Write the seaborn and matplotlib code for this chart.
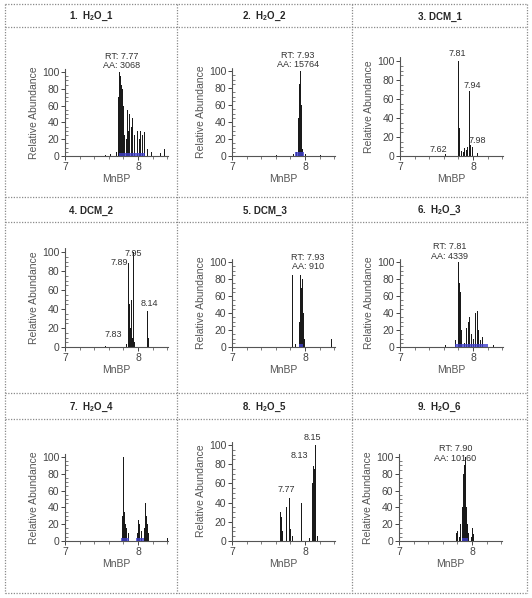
import pandas as pd
import matplotlib
matplotlib.use('Agg')
import matplotlib.pyplot as plt
import seaborn as sns

# ---- data (retention time, relative abundance) ----
titles = [r'$\mathbf{1.\ H_2O\_1}$', r'$\mathbf{2.\ H_2O\_2}$', '3. DCM_1',
          '4. DCM_2', '5. DCM_3', r'$\mathbf{6.\ H_2O\_3}$',
          r'$\mathbf{7.\ H_2O\_4}$', r'$\mathbf{8.\ H_2O\_5}$', r'$\mathbf{9.\ H_2O\_6}$']

p1_rt = [7.55, 7.62, 7.70, 7.72, 7.73, 7.74, 7.75, 7.76, 7.77, 7.78, 7.79, 7.80, 7.81, 7.83,
         7.85, 7.86, 7.88, 7.90, 7.92, 7.95, 7.98, 8.01, 8.03, 8.05, 8.08, 8.12, 8.18, 8.30, 8.36]
p1_ab = [1, 2, 5, 30, 70, 100, 95, 90, 85, 80, 60, 45, 25, 20,
         55, 30, 50, 35, 45, 25, 30, 20, 30, 25, 28, 8, 5, 3, 8]

p2_rt = [7.60, 7.84, 7.88, 7.90, 7.91, 7.92, 7.93, 7.94, 7.95, 7.96, 8.00, 8.20]
p2_ab = [1, 2, 5, 20, 45, 85, 100, 60, 25, 8, 2, 1]

p3_rt = [7.62, 7.79, 7.80, 7.81, 7.84, 7.86, 7.88, 7.90, 7.92, 7.94, 7.96, 7.98, 8.05]
p3_ab = [2, 100, 75, 30, 5, 4, 8, 6, 10, 68, 12, 10, 3]

p4_rt = [7.55, 7.83, 7.86, 7.87, 7.88, 7.89, 7.90, 7.91, 7.92, 7.93, 7.95, 8.12, 8.13, 8.14]
p4_ab = [1, 3, 88, 45, 30, 20, 50, 15, 10, 100, 5, 38, 25, 10]

p5_rt = [7.82, 7.86, 7.92, 7.93, 7.94, 7.95, 7.96, 7.97, 7.98, 8.35, 8.42]
p5_ab = [85, 3, 30, 85, 70, 60, 80, 40, 10, 10, 8]

p6_rt = [7.62, 7.76, 7.79, 7.80, 7.81, 7.82, 7.84, 7.87, 7.90, 7.93, 7.95, 7.97, 8.00,
         8.03, 8.05, 8.07, 8.10, 8.13, 8.27]
p6_ab = [2, 8, 45, 100, 75, 65, 20, 5, 22, 30, 35, 15, 10, 40, 42, 20, 8, 12, 2]

p7_rt = [7.78, 7.79, 7.80, 7.81, 7.82, 7.84, 7.86, 7.98, 8.00, 8.01, 8.02, 8.04,
         8.08, 8.09, 8.10, 8.11, 8.12, 8.14, 8.40]
p7_ab = [30, 100, 40, 35, 20, 15, 10, 10, 25, 20, 18, 12, 15, 45, 40, 30, 20, 10, 3]

p8_rt = [7.66, 7.67, 7.68, 7.74, 7.78, 7.79, 7.80, 7.82, 7.94, 8.06, 8.10, 8.11,
         8.12, 8.13, 8.14, 8.16]
p8_ab = [30, 25, 10, 35, 45, 12, 10, 5, 40, 3, 60, 78, 75, 70, 100, 5]

p9_rt = [7.78, 7.80, 7.82, 7.84, 7.86, 7.87, 7.88, 7.89, 7.90, 7.91, 7.92, 7.93,
         7.95, 7.98, 8.00, 8.02]
p9_ab = [10, 12, 5, 20, 40, 60, 80, 90, 100, 75, 40, 20, 10, 5, 15, 8]

peaks_rt = [p1_rt, p2_rt, p3_rt, p4_rt, p5_rt, p6_rt, p7_rt, p8_rt, p9_rt]
peaks_ab = [p1_ab, p2_ab, p3_ab, p4_ab, p5_ab, p6_ab, p7_ab, p8_ab, p9_ab]

# integrated (blue) areas: start rt, end rt, height
blue_areas = [[(7.74, 8.10, 4)], [(7.86, 7.98, 5)], [], [], [(7.92, 7.97, 4)],
              [(7.76, 8.20, 4)], [(7.77, 7.87, 4), (7.97, 8.08, 4)], [], [(7.86, 7.95, 4)]]

label_texts = [['RT: 7.77\nAA: 3068'], ['RT: 7.93\nAA: 15764'],
               ['7.81', '7.94', '7.62', '7.98'], ['7.95', '7.89', '8.14', '7.83'],
               ['RT: 7.93\nAA: 910'], ['RT: 7.81\nAA: 4339'], [],
               ['8.15', '8.13', '7.77'], ['RT: 7.90\nAA: 10160']]

# ---- layout (pixels) ----
W, H = 532, 598
label_pos = [[(7.78, 102)], [(7.90, 102)],
             [(7.79, 103), (7.99, 69), (7.53, 2), (8.06, 12)],
             [(7.93, 94), (7.75, 84), (8.16, 41), (7.66, 8)],
             [(8.04, 89)], [(7.68, 101)], [],
             [(8.10, 103), (7.92, 84), (7.75, 49)], [(7.77, 93)]]
# left px of y axis, px of y=0 line, px height of 0..100
axes_px = [(65, 156, 84), (232, 156, 85), (400, 156, 95),
           (65, 347, 95), (232, 347, 85), (400, 347, 85),
           (65, 541, 84), (232, 541, 96), (399, 541, 84)]
col_x = [5, 177, 352, 527]
row_y = [4, 197, 393, 593]
title_sep = [27, 222, 419]

sns.set_style('white')
plt.rcParams['font.family'] = ['Liberation Sans', 'DejaVu Sans']
plt.rcParams['mathtext.fontset'] = 'custom'
plt.rcParams['mathtext.bf'] = 'Liberation Sans:bold'
plt.rcParams['mathtext.rm'] = 'Liberation Sans'

fig = plt.figure(figsize=(W / 100, H / 100), dpi=100)

# background grid of panels
bg = fig.add_axes([0, 0, 1, 1])
bg.set_xlim(0, W)
bg.set_ylim(H, 0)
bg.axis('off')
grid_style = dict(color='#8a8a8a', lw=0.9, ls=(0, (1, 1.2)))
for x in col_x:
    bg.plot([x, x], [row_y[0], row_y[-1]], **grid_style)
for y in row_y + title_sep:
    bg.plot([col_x[0], col_x[-1]], [y, y], **grid_style)
for i, t in enumerate(titles):
    r, c = divmod(i, 3)
    cx = (col_x[c] + col_x[c + 1]) / 2
    cy = (row_y[r] + title_sep[r]) / 2 + 1
    bg.text(cx, cy, t, ha='center', va='center', fontsize=7, fontweight='bold')

xmax = 8.41
ymax = 104
for i in range(9):
    L, Z, h100 = axes_px[i]
    wpx = (xmax - 7) * 73
    hpx = h100 * ymax / 100
    ax = fig.add_axes([L / W, 1 - Z / H, wpx / W, hpx / H])
    ax.patch.set_alpha(0)

    # chromatogram trace: baseline with a spike at each peak
    xs, ys = [7.0], [0]
    for rt, ab in sorted(zip(peaks_rt[i], peaks_ab[i])):
        xs += [rt, rt, rt]
        ys += [0, ab, 0]
    xs.append(xmax)
    ys.append(0)
    trace = pd.DataFrame({'rt': xs, 'ab': ys})
    sns.lineplot(data=trace, x='rt', y='ab', sort=False, estimator=None,
                 color='#1a1a1a', lw=0.7, ax=ax)

    for a, b, hgt in blue_areas[i]:
        ax.fill_between([a, b], 0, hgt, color='#4040cc', alpha=0.8, lw=0, zorder=3)

    for txt, (tx, ty) in zip(label_texts[i], label_pos[i]):
        ax.text(tx, ty, txt, ha='center', va='bottom', fontsize=6.5,
                color='#333333', clip_on=False, linespacing=1.1)

    ax.set_xlim(7, xmax)
    ax.set_ylim(0, ymax)
    ax.set_xticks([7, 8])
    ax.set_xticks([7.2, 7.4, 7.6, 7.8, 8.2, 8.4], minor=True)
    ax.set_yticks([0, 20, 40, 60, 80, 100])
    ax.set_yticks(range(0, 101, 5), minor=True)
    ax.tick_params(axis='both', which='major', labelsize=7.5, colors='#444444',
                   length=3, width=0.7, pad=1, left=True, bottom=True)
    ax.tick_params(axis='x', which='minor', length=2, width=0.6, colors='#666666', bottom=True)
    ax.tick_params(axis='y', which='minor', length=2, width=0.6, colors='#666666',
                   direction='in', left=True)
    for s in ['top', 'right']:
        ax.spines[s].set_visible(False)
    for s in ['left', 'bottom']:
        ax.spines[s].set_linestyle((0, (1, 1)))
        ax.spines[s].set_color('#555555')
        ax.spines[s].set_linewidth(0.8)
    ax.set_xlabel('MnBP', fontsize=7.5, color='#555555', labelpad=2)
    ax.set_ylabel('Relative Abundance', fontsize=7.5, color='#555555', labelpad=2)

fig.savefig('out.png', dpi=100)
